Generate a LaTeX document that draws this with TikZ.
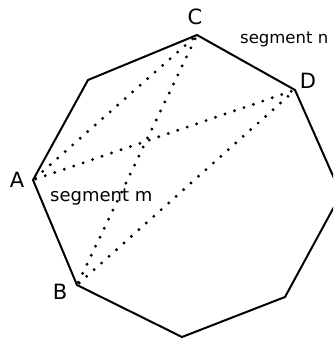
\documentclass[tikz,border=0pt]{standalone}
\usepackage{fontspec}
\setmainfont{DejaVu Sans}
\usetikzlibrary{positioning,calc}

\begin{document}
\begin{tikzpicture}[
  x=1pt, y=-1pt,
  side/.style={draw, line width=2pt, line join=round},
  diag/.style={line width=3.2pt, line cap=round, dash pattern=on 0pt off 10pt,
               shorten >=3pt, shorten <=3pt},
  vlab/.style={font=\fontsize{21}{22}\selectfont, inner sep=0pt},
  slab/.style={font=\fontsize{18}{20}\selectfont, inner sep=0pt, anchor=base west}
]
  \useasboundingbox (0,0) rectangle (333,339);
  \clip (0,0) rectangle (333,339);

  % Octagon corners
  \coordinate (C) at (197,35);
  \coordinate (D) at (295,90);
  \coordinate (R) at (341,194);
  \coordinate (BR) at (285,297);
  \coordinate (Bot) at (182,337);
  \coordinate (B) at (77,285);
  \coordinate (A) at (33,180);
  \coordinate (UL) at (88,80);

  \draw[side] (C) -- (D) -- (R) -- (BR) -- (Bot) -- (B) -- (A) -- (UL) -- cycle;

  % Dotted segments
  \draw[diag] (A) -- (C);
  \draw[diag] (A) -- (D);
  \draw[diag] (B) -- (C);
  \draw[diag] (B) -- (D);

  % Labels
  \node[vlab] (labC) at (195,17) {C};
  \node[vlab] (labD) at (308,81) {D};
  \node[vlab] (labA) at (17,180) {A};
  \node[vlab] (labB) at (60,292) {B};
  \node[slab, font=\fontsize{16.5}{20}\selectfont] (segn) at (240,44) {segment n};
  \node[slab] (segm) at (50,201) {segment m};
\end{tikzpicture}
\end{document}
